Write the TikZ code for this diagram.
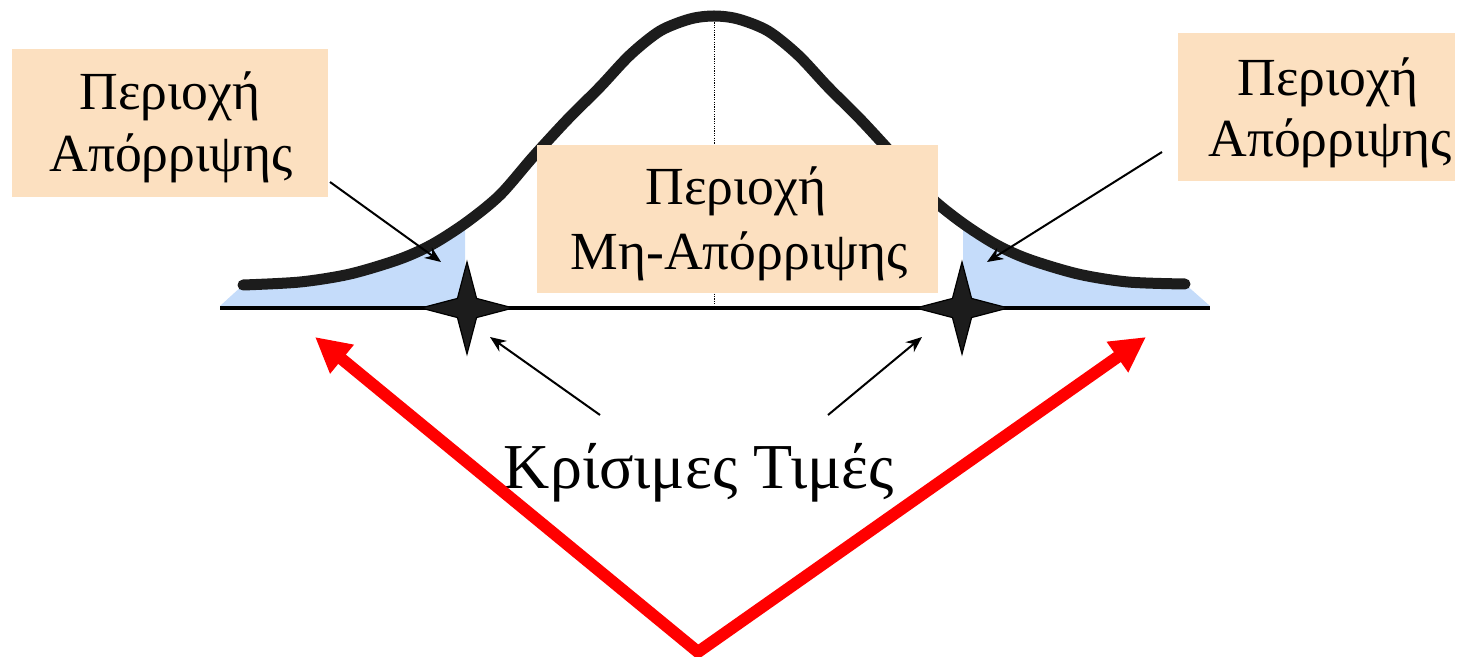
\documentclass[tikz,border=0pt]{standalone}
\usepackage{fontspec}
\setmainfont{Liberation Serif}
\usetikzlibrary{shapes.geometric,arrows.meta}
\definecolor{peach}{RGB}{252,224,192}
\definecolor{tailblue}{RGB}{197,220,250}
\definecolor{curvegray}{RGB}{28,28,28}
\definecolor{arrred}{RGB}{255,0,0}
\newcommand{\bellpts}{(243,285) (300,282) (350,274) (400,259) (433,244) (467,222) (500,195) (533,157) (567,120) (600,87) (630,55) (660,31) (690,19) (714,16) (738,19) (768,31) (798,55) (828,87) (861,120) (895,157) (928,195) (961,222) (995,244) (1028,259) (1078,274) (1128,282) (1185,284)}
\begin{document}
\begin{tikzpicture}[x=0.5pt,y=-0.5pt,
  box/.style={fill=peach, draw=none, inner sep=0, minimum height=74pt},
  boxtext/.style={font=\fontsize{26.8}{30}\selectfont, anchor=base, inner sep=0},
  bigtext/.style={font=\fontsize{32}{36}\selectfont, anchor=base, inner sep=0},
  critstar/.style={star, star points=4, star point ratio=3.4, minimum size=46pt, inner sep=0, fill=curvegray, draw=black, line width=0.6pt},
  thinarrow/.style={draw=black, line width=1pt, -{Stealth[length=8pt,width=6.5pt]}},
  redarrow/.style={draw=arrred, line width=6pt, miter limit=20, {Triangle[length=17.5pt,width=17.5pt]}-{Triangle[length=17.5pt,width=17.5pt]}},
  bell/.style={draw=curvegray, line width=5.5pt, line cap=round, line join=round}
]
\useasboundingbox (0,0) rectangle (1466,657);

% shaded tails
\begin{scope}
  \clip (0,0) rectangle (465,320) (963,0) rectangle (1466,320);
  \fill[tailblue] (220,306) -- plot[smooth,tension=0.5] coordinates {\bellpts} -- (1210,306) -- cycle;
\end{scope}

% dotted centre line
\draw[black, line width=0.5pt, dash pattern=on 0.6pt off 0.6pt] (714,20) -- (714,308);

% bell curve
\draw[bell] plot[smooth,tension=0.5] coordinates {\bellpts};

% axis
\coordinate (axl) at (220,308);
\coordinate (axr) at (1210,308);
\draw[black, line width=2pt] (axl) -- (axr);

% critical value stars
\node[critstar] (s1) at (467,308) {};
\node[critstar] (s2) at (962,308) {};

% boxes
\node[box, minimum width=158pt] (lbox) at (170,123) {};
\node[boxtext] (lt1) at (170,110) {Περιοχή};
\node[boxtext] (lt2) at (171,172) {Απόρριψης};

\node[box, minimum width=200.5pt] (cbox) at (737.5,219) {};
\node[boxtext] (ct1) at (736,205) {Περιοχή};
\node[boxtext] (ct2) at (739,270) {Μη-Απόρριψης};

\node[box, minimum width=138.5pt] (rbox) at (1316.5,107) {};
\node[boxtext] (rt1) at (1328,96) {Περιοχή};
\node[boxtext] (rt2) at (1330,157) {Απόρριψης};

% critical values label
\node[bigtext] (crit) at (699,488) {Κρίσιμες Τιμές};

% thin arrows
\coordinate (a1s) at (330,182);
\coordinate (a1e) at (441,262);
\coordinate (a2s) at (600,415);
\coordinate (a2e) at (490,337);
\coordinate (a3s) at (828,415);
\coordinate (a3e) at (922,337);
\coordinate (a4s) at (1162,152);
\coordinate (a4e) at (987,262);
\draw[thinarrow] (a1s) -- (a1e);
\draw[thinarrow] (a2s) -- (a2e);
\draw[thinarrow] (a3s) -- (a3e);
\draw[thinarrow] (a4s) -- (a4e);

% red arrows
\coordinate (rl) at (315,337);
\coordinate (apex) at (698,652);
\coordinate (rr) at (1146,337);
\draw[redarrow] (rl) -- (apex) -- (rr);
\end{tikzpicture}
\end{document}
